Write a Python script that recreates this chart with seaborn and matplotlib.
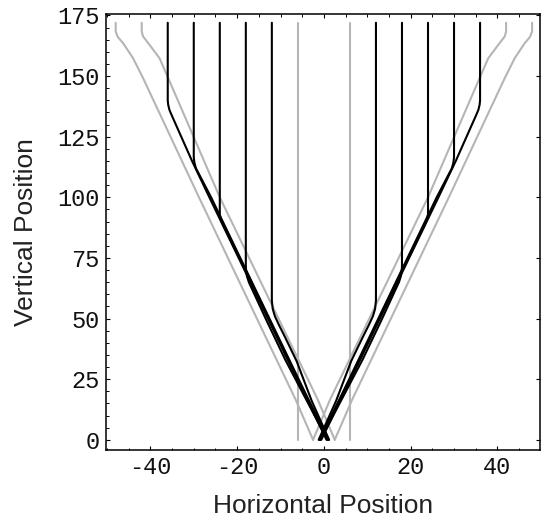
import matplotlib
matplotlib.use("Agg")
import matplotlib.pyplot as plt
from matplotlib.ticker import MultipleLocator
import pandas as pd
import seaborn as sns

# --- gray paths ---------------------------------------------------------
g_vert_left_x = [-6, -6]
g_vert_left_y = [0, 172]
g_vert_right_x = [6, 6]
g_vert_right_y = [0, 172]

# V rooted right of centre: left arm ends at -42, right arm at +48
g_in_left_x = [2.5, -1.4, -24.0, -35.9, -37.9, -40.2, -41.7, -42.0, -42.0]
g_in_left_y = [0, 16.5, 100, 149.2, 157.4, 162.9, 166.4, 168.4, 172]
g_out_right_x = [2.5, 6.5, 28.8, 41.7, 44.0, 46.3, 47.5, 48.0, 48.0]
g_out_right_y = [0, 16.5, 100, 149.2, 157.4, 163.6, 166.1, 168.4, 172]

# V rooted left of centre: left arm ends at -48, right arm at +42
g_out_left_x = [-2.5, -6.5, -28.8, -41.7, -44.0, -46.3, -47.5, -48.0, -48.0]
g_out_left_y = [0, 16.5, 100, 149.2, 157.4, 163.6, 166.1, 168.4, 172]
g_in_right_x = [-2.5, 1.4, 24.0, 35.9, 37.9, 40.2, 41.7, 42.0, 42.0]
g_in_right_y = [0, 16.5, 100, 149.2, 157.4, 162.9, 166.4, 168.4, 172]

# --- black paths, left side ----------------------------------------------
b_l12_x = [1.2, -2.8, -6.3, -9.0, -10.4, -11.3, -11.8, -12.0, -12.0]
b_l12_y = [0, 16, 32.5, 42.5, 47.5, 51, 54, 57.5, 172]
b_l18_x = [0.8, -8.9, -13.3, -17.3, -17.75, -17.95, -18.0, -18.0]
b_l18_y = [0, 33, 49.5, 65, 67.5, 70, 72, 172]
b_l24_x = [1.1, -8.3, -16.7, -23.2, -23.75, -24.0, -24.0]
b_l24_y = [0, 33, 65, 88.5, 90.8, 93, 172]
b_l30_x = [0.9, -26.0, -29.5, -29.85, -30.0, -30.0]
b_l30_y = [0, 100, 112, 114.3, 116.5, 172]
b_l36_x = [0.6, -26.4, -30.4, -35.0, -35.6, -35.9, -36.0, -36.0]
b_l36_y = [0, 100, 115, 133.5, 136, 138.2, 140, 172]

# --- black paths, right side ---------------------------------------------
b_r12_x = [-1.2, 2.8, 6.3, 9.0, 10.4, 11.3, 11.8, 12.0, 12.0]
b_r12_y = [0, 16, 32.5, 42.5, 47.5, 51, 54, 57.5, 172]
b_r18_x = [-0.8, 8.9, 13.3, 17.3, 17.75, 17.95, 18.0, 18.0]
b_r18_y = [0, 33, 49.5, 65, 67.5, 70, 72, 172]
b_r24_x = [-1.1, 8.3, 16.7, 23.2, 23.75, 24.0, 24.0]
b_r24_y = [0, 33, 65, 88.5, 90.8, 93, 172]
b_r30_x = [-0.9, 26.0, 29.5, 29.85, 30.0, 30.0]
b_r30_y = [0, 100, 112, 114.3, 116.5, 172]
b_r36_x = [-0.6, 26.4, 30.4, 35.0, 35.6, 35.9, 36.0, 36.0]
b_r36_y = [0, 100, 115, 133.5, 136, 138.2, 140, 172]

paths = [
    ("gvl", "gray", g_vert_left_x, g_vert_left_y),
    ("gvr", "gray", g_vert_right_x, g_vert_right_y),
    ("gil", "gray", g_in_left_x, g_in_left_y),
    ("gor", "gray", g_out_right_x, g_out_right_y),
    ("gol", "gray", g_out_left_x, g_out_left_y),
    ("gir", "gray", g_in_right_x, g_in_right_y),
    ("bl12", "black", b_l12_x, b_l12_y),
    ("bl18", "black", b_l18_x, b_l18_y),
    ("bl24", "black", b_l24_x, b_l24_y),
    ("bl30", "black", b_l30_x, b_l30_y),
    ("bl36", "black", b_l36_x, b_l36_y),
    ("br12", "black", b_r12_x, b_r12_y),
    ("br18", "black", b_r18_x, b_r18_y),
    ("br24", "black", b_r24_x, b_r24_y),
    ("br30", "black", b_r30_x, b_r30_y),
    ("br36", "black", b_r36_x, b_r36_y),
]

rows = []
for name, shade, xs, ys in paths:
    for x, y in zip(xs, ys):
        rows.append({"x": x, "y": y, "path": name, "shade": shade})
df = pd.DataFrame(rows)

sns.set_style("ticks")
plt.rcParams["font.family"] = ["Liberation Mono", "DejaVu Sans"]
plt.rcParams["axes.unicode_minus"] = False

fig = plt.figure(figsize=(5.41, 5.21), dpi=100)
ax = fig.add_axes([0.1954, 0.1363, 0.8026, 0.8377])

sns.lineplot(data=df, x="x", y="y", units="path", estimator=None, sort=False,
             hue="shade", hue_order=["gray", "black"],
             palette={"gray": "#b5b5b5", "black": "black"},
             linewidth=1.5, legend=False, ax=ax)

ax.set_xlim(-50.3, 49.8)
ax.set_ylim(-4.2, 175.8)
ax.set_xticks([-40, -20, 0, 20, 40])
ax.set_yticks([0, 25, 50, 75, 100, 125, 150, 175])
ax.xaxis.set_minor_locator(MultipleLocator(5))
ax.yaxis.set_minor_locator(MultipleLocator(5))
ax.tick_params(which="both", direction="in", top=True, right=True,
               color="black", labelsize=17, labelcolor="#111111")
ax.tick_params(which="major", length=3, width=0.8)
ax.tick_params(which="minor", length=1.8, width=0.7)
ax.tick_params(axis="y", which="minor", right=False)
ax.tick_params(axis="x", pad=4)
ax.tick_params(axis="y", pad=4.5)
for s in ax.spines.values():
    s.set_linewidth(1.1)
    s.set_color("black")

ax.set_xlabel("Horizontal Position", fontsize=19, family="Liberation Sans", color="#222222")
ax.set_ylabel("Vertical Position", fontsize=19, family="Liberation Sans", color="#222222")
ax.xaxis.label.set_verticalalignment("baseline")
ax.xaxis.set_label_coords(0.5, -0.1443)
ax.yaxis.label.set_verticalalignment("baseline")
ax.yaxis.set_label_coords(-0.1667, 0.5)

fig.savefig("out.png", dpi=100)
